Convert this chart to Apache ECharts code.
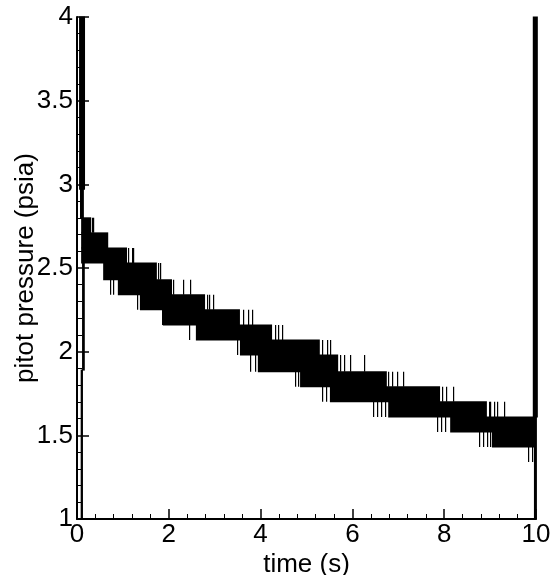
<!DOCTYPE html>
<html>
<head>
<meta charset="utf-8">
<script src="https://cdn.jsdelivr.net/npm/echarts@6/dist/echarts.min.js"></script>
<style>
html,body{margin:0;padding:0;background:#fff;}
#chart{width:556px;height:575px;}
</style>
</head>
<body>
<div id="chart"></div>
<script>
// Axis tick values
const xTicks = [0, 2, 4, 6, 8, 10];
const yTicks = [1, 1.5, 2, 2.5, 3, 3.5, 4];

// Quantized noise band: each row is a level pair the signal toggles between densely
// [time start (s), time end (s), lower pressure (psia), upper pressure (psia)]
const bandRows = [
  [0.09, 0.31, 2.71, 2.80],
  [0.09, 0.68, 2.62, 2.71],
  [0.09, 1.09, 2.53, 2.62],
  [0.57, 1.74, 2.43, 2.53],
  [0.89, 2.07, 2.34, 2.43],
  [1.37, 2.79, 2.25, 2.34],
  [1.87, 3.55, 2.16, 2.25],
  [2.59, 4.25, 2.07, 2.16],
  [3.55, 5.29, 1.98, 2.07],
  [3.94, 5.69, 1.88, 1.98],
  [4.86, 6.75, 1.79, 1.88],
  [5.51, 7.91, 1.70, 1.79],
  [6.78, 8.93, 1.61, 1.70],
  [8.13, 9.98, 1.52, 1.61],
  [9.04, 9.98, 1.43, 1.52]
];

// Isolated excursions: [time (s), lower pressure, upper pressure]
const spikes = [
  [0.33, 2.71, 2.80], [0.35, 2.71, 2.80],
  [1.12, 2.53, 2.62], [1.19, 2.53, 2.62], [1.22, 2.53, 2.62],
  [1.76, 2.43, 2.53], [1.81, 2.43, 2.53],
  [0.72, 2.34, 2.43], [0.78, 2.34, 2.43], [2.09, 2.34, 2.43], [2.31, 2.34, 2.43], [2.46, 2.34, 2.43],
  [1.31, 2.25, 2.34], [2.83, 2.25, 2.34], [2.88, 2.25, 2.34], [2.96, 2.25, 2.34],
  [1.85, 2.16, 2.25], [3.62, 2.16, 2.25], [3.72, 2.16, 2.25], [3.81, 2.16, 2.25],
  [2.44, 2.07, 2.16], [4.31, 2.07, 2.16], [4.38, 2.07, 2.16], [4.47, 2.07, 2.16],
  [3.49, 1.98, 2.07], [5.34, 1.98, 2.07], [5.45, 1.98, 2.07], [5.51, 1.98, 2.07],
  [3.77, 1.88, 1.98], [3.88, 1.88, 1.98], [5.73, 1.88, 1.98], [5.82, 1.88, 1.98], [5.95, 1.88, 1.98], [6.25, 1.88, 1.98],
  [4.75, 1.79, 1.88], [4.81, 1.79, 1.88], [6.78, 1.79, 1.88], [6.86, 1.79, 1.88], [6.97, 1.79, 1.88], [7.10, 1.79, 1.88],
  [5.34, 1.70, 1.79], [5.42, 1.70, 1.79], [7.95, 1.70, 1.79], [8.04, 1.70, 1.79], [8.19, 1.70, 1.79],
  [6.45, 1.61, 1.70], [6.53, 1.61, 1.70], [6.62, 1.61, 1.70], [6.71, 1.61, 1.70],
  [8.97, 1.61, 1.70], [9.00, 1.61, 1.70], [9.08, 1.61, 1.70], [9.15, 1.61, 1.70], [9.30, 1.61, 1.70],
  [7.84, 1.52, 1.61], [7.93, 1.52, 1.61], [8.02, 1.52, 1.61],
  [8.76, 1.43, 1.52], [8.85, 1.43, 1.52], [8.93, 1.43, 1.52], [9.00, 1.43, 1.52],
  [9.83, 1.34, 1.43], [9.91, 1.34, 1.43]
];

// Start-up and shut-down transients (dense off-scale swings): [t start, t end, lower, upper]
const startBurst = [
  [0.045, 0.175, 2.97, 4.0],
  [0.065, 0.15, 2.80, 2.97],
  [0.11, 0.17, 1.89, 2.53],
  [0.08, 0.13, 1.0, 1.89]
];
const endBurst = [
  [9.93, 10.04, 1.61, 4.0],
  [9.955, 10.02, 1.0, 1.61]
];

const chart = echarts.init(document.getElementById('chart'), null, {renderer: 'canvas'});

function renderBlock(params, api) {
  const p0 = api.coord([api.value(0), api.value(3)]);
  const p1 = api.coord([api.value(1), api.value(2)]);
  return {
    type: 'rect',
    shape: {x: p0[0], y: p0[1] - 0.5, width: p1[0] - p0[0], height: p1[1] - p0[1] + 1},
    style: {fill: '#000'}
  };
}
function renderSpike(params, api) {
  const a = api.coord([api.value(0), api.value(2)]);
  const b = api.coord([api.value(0), api.value(1)]);
  return {
    type: 'rect',
    shape: {x: Math.round(a[0]), y: a[1], width: 1.2, height: b[1] - a[1]},
    style: {fill: '#000'}
  };
}

const FONT = 'Liberation Sans, Arial, sans-serif';

const option = {
  animation: false,
  backgroundColor: '#fff',
  grid: {left: 77, right: 20, top: 17, bottom: 56, containLabel: false, outerBoundsMode: 'none'},
  xAxis: {
    type: 'value', min: xTicks[0], max: xTicks[xTicks.length - 1], interval: 2,
    name: 'time (s)', nameLocation: 'middle', nameGap: 33, nameMoveOverlap: false,
    nameTextStyle: {color: '#000', fontSize: 26, fontFamily: FONT},
    axisLine: {show: true, onZero: false, lineStyle: {color: '#000', width: 2}},
    axisTick: {show: true, inside: true, length: 10, lineStyle: {color: '#000', width: 1.5}},
    minorTick: {show: true, splitNumber: 5, length: 5, lineStyle: {color: '#000', width: 1}},
    splitLine: {show: false},
    axisLabel: {color: '#000', fontSize: 26, fontFamily: FONT, margin: 3}
  },
  yAxis: {
    type: 'value', min: yTicks[0], max: yTicks[yTicks.length - 1], interval: 0.5,
    name: 'pitot pressure (psia)', nameLocation: 'middle', nameGap: 38, nameRotate: 90,
    nameMoveOverlap: false,
    nameTextStyle: {color: '#000', fontSize: 26, fontFamily: FONT},
    axisLine: {show: true, onZero: false, lineStyle: {color: '#000', width: 2}},
    axisTick: {show: true, inside: true, length: 12, lineStyle: {color: '#000', width: 1.5}},
    minorTick: {show: true, splitNumber: 5, length: 5, lineStyle: {color: '#000', width: 1}},
    splitLine: {show: false},
    axisLabel: {color: '#000', fontSize: 26, fontFamily: FONT, margin: 4}
  },
  series: [
    {type: 'custom', name: 'band', renderItem: renderBlock, data: bandRows, clip: false,
     encode: {x: [0, 1], y: [2, 3]}, silent: true},
    {type: 'custom', name: 'spikes', renderItem: renderSpike, data: spikes, clip: false,
     encode: {x: 0, y: [1, 2]}, silent: true},
    {type: 'custom', name: 'start', renderItem: renderBlock, data: startBurst, clip: false,
     encode: {x: [0, 1], y: [2, 3]}, silent: true},
    {type: 'custom', name: 'end', renderItem: renderBlock, data: endBurst, clip: false,
     encode: {x: [0, 1], y: [2, 3]}, silent: true}
  ]
};
chart.setOption(option);
</script>
</body>
</html>
